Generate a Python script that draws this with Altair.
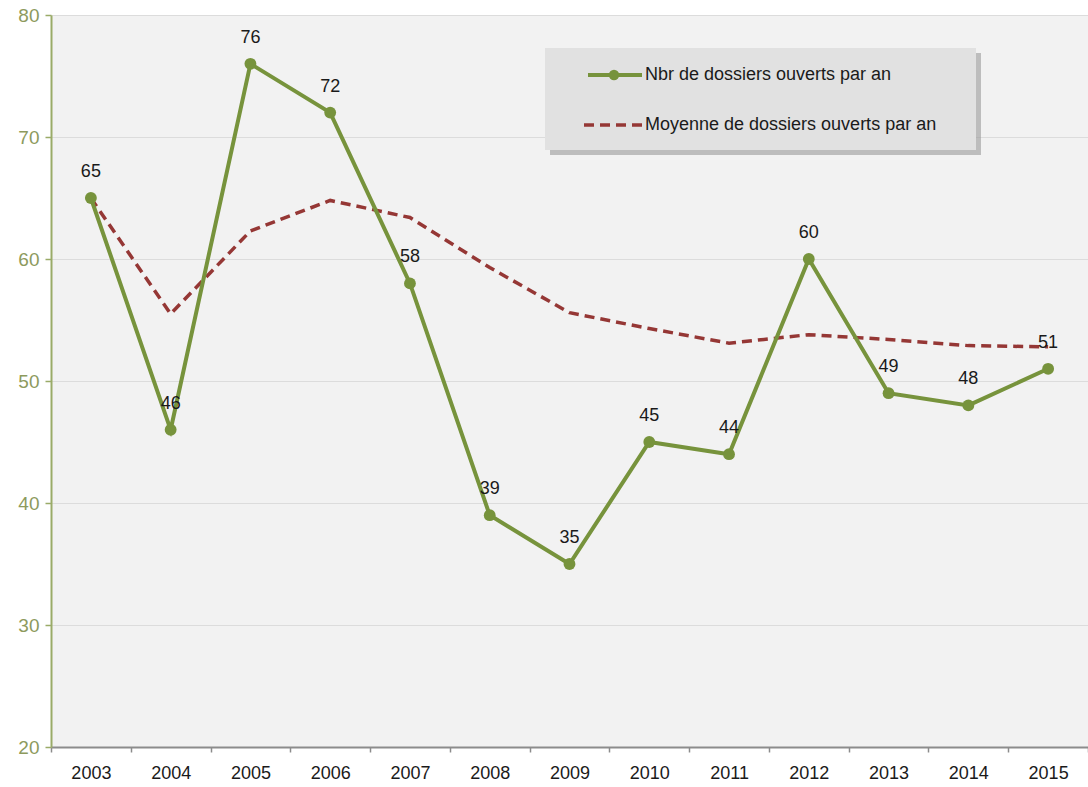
import altair as alt
import pandas as pd

# Yearly figures
years = ["2003", "2004", "2005", "2006", "2007", "2008", "2009",
         "2010", "2011", "2012", "2013", "2014", "2015"]
dossiers = [65, 46, 76, 72, 58, 39, 35, 45, 44, 60, 49, 48, 51]
moyenne = [65.0, 55.5, 62.3, 64.8, 63.4, 59.3, 55.6, 54.3, 53.1, 53.8, 53.4, 52.9, 52.8]

serie_nbr = "Nbr de dossiers ouverts par an"
serie_moy = "Moyenne de dossiers ouverts par an"

GREEN = "#77933c"
RED = "#953735"
FONT = "Liberation Sans"
TXT = "#1a1a1a"

df = pd.DataFrame({"annee": years, "nbr": dossiers, "moy": moyenne})

W, H = 1037, 732

x_enc = alt.X(
    "annee:O",
    bandPosition=0.5,
    scale=alt.Scale(type="band", paddingInner=0, paddingOuter=0),
    axis=alt.Axis(
        title=None, labelAngle=0, tickBand="extent", labelFontSize=18,
        labelColor=TXT, labelFont=FONT, labelPadding=12,
        domainColor="#8c8c8c", domainWidth=2, tickColor="#8c8c8c",
        tickSize=5, tickWidth=1.5, grid=False,
    ),
)
y_scale = alt.Scale(domain=[20, 80], nice=False, zero=False)
y_axis = alt.Axis(
    title=None, values=[20, 30, 40, 50, 60, 70, 80], labelFontSize=19,
    labelColor="#8d9a5d", labelFont=FONT, labelPadding=6,
    domainColor="#9aab68", domainWidth=2, tickColor="#9aab68", tickSize=6,
    tickWidth=1.5, grid=True, gridColor="#dcdcdc", gridWidth=1,
)

base = alt.Chart(df)

avg_line = base.mark_line(color=RED, strokeWidth=3.5, strokeDash=[10, 6]).encode(
    x=x_enc, y=alt.Y("moy:Q", scale=y_scale, axis=y_axis)
)
nbr_line = base.mark_line(color=GREEN, strokeWidth=4).encode(
    x=x_enc, y=alt.Y("nbr:Q", scale=y_scale)
)
nbr_pts = base.mark_circle(color=GREEN, size=140, opacity=1).encode(
    x=x_enc, y=alt.Y("nbr:Q", scale=y_scale)
)
nbr_lbl = base.mark_text(dy=-26, fontSize=18, font=FONT, color=TXT).encode(
    x=x_enc, y=alt.Y("nbr:Q", scale=y_scale), text="nbr:Q"
)

# Legend box drawn with pixel-value marks
lg = alt.Chart(pd.DataFrame({"k": [0]}))
lg_shadow = lg.mark_rect(color="#9a9a9a", opacity=0.6).encode(
    x=alt.value(499), x2=alt.value(930), y=alt.value(38), y2=alt.value(140)
)
lg_box = lg.mark_rect(color="#e1e1e1").encode(
    x=alt.value(494), x2=alt.value(925), y=alt.value(33), y2=alt.value(135)
)
lg_g_line = lg.mark_rule(color=GREEN, strokeWidth=4).encode(
    x=alt.value(537), x2=alt.value(591), y=alt.value(60)
)
lg_g_pt = lg.mark_circle(color=GREEN, size=110, opacity=1).encode(
    x=alt.value(563), y=alt.value(60)
)
lg_r_line = lg.mark_rule(color=RED, strokeWidth=3.5, strokeDash=[10, 6]).encode(
    x=alt.value(533), x2=alt.value(593), y=alt.value(110)
)
lg_t1 = lg.mark_text(align="left", baseline="middle", fontSize=18, font=FONT,
                     color=TXT).encode(
    x=alt.value(594), y=alt.value(60), text=alt.value(serie_nbr)
)
lg_t2 = lg.mark_text(align="left", baseline="middle", fontSize=18, font=FONT,
                     color=TXT).encode(
    x=alt.value(594), y=alt.value(110), text=alt.value(serie_moy)
)

chart = alt.layer(
    avg_line, nbr_line, nbr_pts, nbr_lbl,
    lg_shadow, lg_box, lg_g_line, lg_g_pt, lg_r_line, lg_t1, lg_t2,
).properties(
    width=W, height=H,
    padding={"left": 51, "top": 15, "right": 0, "bottom": 40},
    autosize=alt.AutoSizeParams(type="none"),
    background="white",
).configure_view(fill="#f2f2f2", stroke=None)

chart.save("out.html", embed_options={"renderer": "svg", "actions": False})
